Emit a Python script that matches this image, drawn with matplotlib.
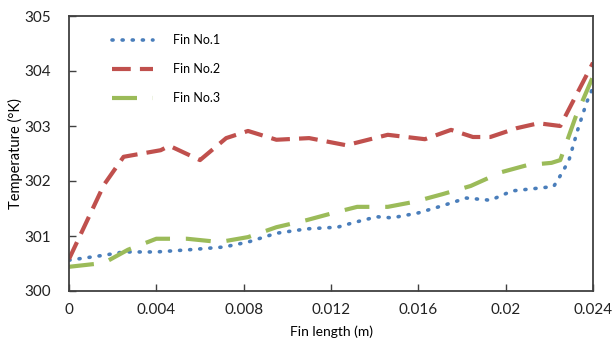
import matplotlib.pyplot as plt

plt.rcParams['font.family'] = ['Lato', 'DejaVu Sans']

# Fin No.1
x1 = [0, 0.0016, 0.0025, 0.004, 0.0055, 0.0071, 0.0082, 0.0095, 0.0109, 0.0123,
      0.013, 0.0141, 0.0148, 0.016, 0.0171, 0.0182, 0.0193, 0.0203, 0.0215, 0.0222,
      0.0226, 0.0229, 0.0233, 0.0237, 0.024]
t1 = [300.56, 300.65, 300.71, 300.71, 300.75, 300.8, 300.89, 301.05, 301.13, 301.16,
      301.24, 301.35, 301.33, 301.42, 301.55, 301.69, 301.65, 301.82, 301.87, 301.9,
      302.16, 302.38, 302.93, 303.42, 303.7]

# Fin No.2
x2 = [0, 0.0016, 0.0025, 0.0042, 0.0046, 0.006, 0.0072, 0.0082, 0.0095, 0.011,
      0.0127, 0.0146, 0.0163, 0.0175, 0.0185, 0.0193, 0.0205, 0.0215, 0.0225, 0.024]
t2 = [300.58, 301.93, 302.44, 302.56, 302.64, 302.38, 302.78, 302.91, 302.75, 302.78,
      302.65, 302.84, 302.76, 302.93, 302.8, 302.8, 302.96, 303.05, 303.0, 304.15]

# Fin No.3
x3 = [0, 0.0016, 0.0027, 0.004, 0.0054, 0.0069, 0.0082, 0.0095, 0.0109, 0.0123,
      0.0132, 0.0146, 0.0158, 0.0171, 0.0184, 0.0198, 0.021, 0.0221, 0.0225, 0.0232, 0.024]
t3 = [300.44, 300.51, 300.75, 300.95, 300.95, 300.89, 300.98, 301.16, 301.29, 301.44,
      301.53, 301.53, 301.62, 301.76, 301.91, 302.16, 302.29, 302.33, 302.38, 303.16, 303.9]

xticks = [0, 0.004, 0.008, 0.012, 0.016, 0.02, 0.024]
xlabels = ['0', '0.004', '0.008', '0.012', '0.016', '0.02', '0.024']

fig = plt.figure(figsize=(6.13, 3.52), dpi=100)
ax = fig.add_axes([69 / 613, 1 - 291 / 352, 524 / 613, 275 / 352])

ax.plot(x1, t1, color='#4a7ebb', lw=2.6, ls=(0, (0.3, 2.5)), dash_capstyle='round',
        label='Fin No.1')
ax.plot(x2, t2, color='#c0504d', lw=3, ls=(0, (4.5, 2.2)), label='Fin No.2')
ax.plot(x3, t3, color='#9bbb59', lw=3, ls=(0, (6, 3.8)), label='Fin No.3')

ax.set_xlim(0, 0.024)
ax.set_ylim(300, 305)
ax.set_xticks(xticks)
ax.set_xticklabels(xlabels)
ax.set_yticks([300, 301, 302, 303, 304, 305])
ax.tick_params(direction='in', length=5, width=1, colors='#404040', labelsize=11,
               labelcolor='#222222')
ax.tick_params(axis='x', pad=9)
ax.tick_params(axis='y', pad=13)
for s in ax.spines.values():
    s.set_linewidth(1.3)
    s.set_color('#404040')

ax.set_xlabel('Fin length (m)', fontsize=10, labelpad=6)
ax.set_ylabel('Temperature (°K)', fontsize=10.5, labelpad=1)

leg = ax.legend(loc='upper left', bbox_to_anchor=(0.06, 0.975), frameon=False,
                fontsize=9, handlelength=3.3, labelspacing=1.35, handletextpad=1.6)

fig.savefig('out.png', dpi=100)
